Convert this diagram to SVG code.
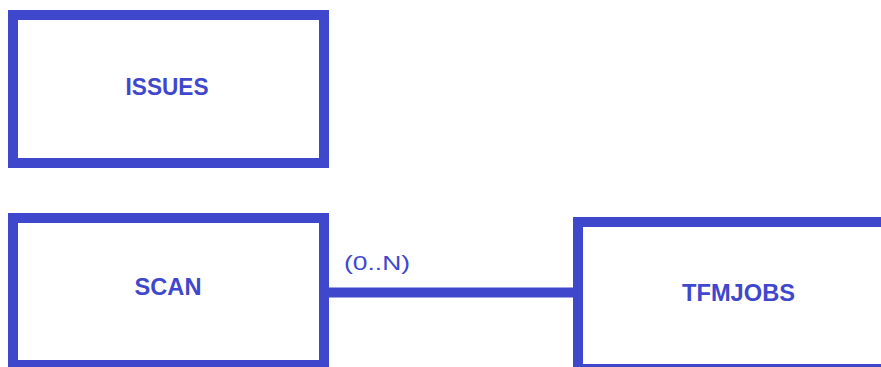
<svg xmlns="http://www.w3.org/2000/svg" width="881" height="367" viewBox="0 0 881 367">
<style>
.box{fill:#ffffff;stroke:#3f48cc;stroke-width:10}
.lbl{font-family:"Liberation Sans",Arial,sans-serif;font-weight:bold;font-size:23px;fill:#3f48cc;text-anchor:middle}
.card{font-family:"Liberation Sans",Arial,sans-serif;font-size:21px;fill:#3f48cc}
.conn{stroke:#3f48cc;stroke-width:10;fill:none}
</style>
<rect width="881" height="367" fill="#ffffff"/>
<g id="connectors">
<line class="conn" x1="324" y1="292.5" x2="578" y2="292.5"/>
<text class="card" x="344" y="270" textLength="66" lengthAdjust="spacingAndGlyphs">(0..N)</text>
</g>
<g id="issues">
<rect class="box" x="13" y="15" width="311" height="148"/>
<text class="lbl" x="167" y="95" textLength="83" lengthAdjust="spacingAndGlyphs">ISSUES</text>
</g>
<g id="scan">
<rect class="box" x="13" y="218" width="311" height="147"/>
<text class="lbl" x="168" y="295" textLength="67" lengthAdjust="spacingAndGlyphs">SCAN</text>
</g>
<g id="tfmjobs">
<rect class="box" x="578" y="222" width="320" height="147"/>
<text class="lbl" x="738.5" y="301" textLength="113" lengthAdjust="spacingAndGlyphs">TFMJOBS</text>
</g>
</svg>
